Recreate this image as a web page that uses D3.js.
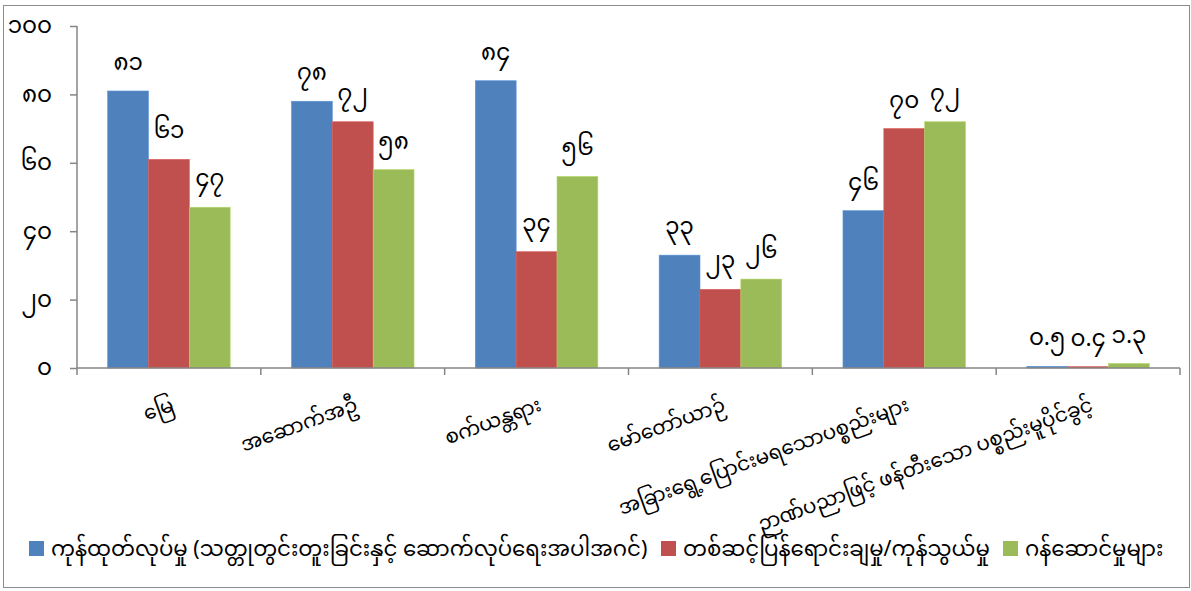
<!DOCTYPE html>
<html><head><meta charset="utf-8">
<script src="https://cdn.jsdelivr.net/npm/d3@7"></script>
<style>
html,body{margin:0;padding:0;background:#fff;}
svg{display:block;}
text{font-family:"Noto Sans Myanmar","Padauk","Myanmar Text","Noto Sans","DejaVu Sans",sans-serif;fill:#000;}
</style></head>
<body>
<svg id="c" width="1191" height="591"></svg>
<script>
const categories = ["မြေ","အဆောက်အဦ","စက်ယန္တရား","မော်တော်ယာဉ်","အခြားရွေ့ပြောင်းမရသောပစ္စည်းများ","ဉာဏ်ပညာဖြင့် ဖန်တီးသော ပစ္စည်းမူပိုင်ခွင့်"];
const seriesNames = ["ကုန်ထုတ်လုပ်မှု (သတ္တုတွင်းတူးခြင်းနှင့် ဆောက်လုပ်ရေးအပါအဂင်)","တစ်ဆင့်ပြန်ရောင်းချမှု/ကုန်သွယ်မှု","ဂန်ဆောင်မှုများ"];
const manufacturing = [81, 78, 84, 33, 46, 0.5];
const retailTrade = [61, 72, 34, 23, 70, 0.4];
const services = [47, 58, 56, 26, 72, 1.3];
const yTicks = [0, 20, 40, 60, 80, 100];
const colors = ["#4F81BD","#C0504D","#9BBB59"];

const series = [manufacturing, retailTrade, services];
const myDigits = "၀၁၂၃၄၅၆၇၈၉";
const toMy = v => String(v).replace(/[0-9]/g, d => myDigits[+d]);

const svg = d3.select("#c");
svg.append("rect").attr("x",3.5).attr("y",5.5).attr("width",1186).attr("height",582)
  .attr("fill","none").attr("stroke","#8c8c8c").attr("stroke-width",1);

const pLeft = 77, pRight = 1180, pTop = 26, pBottom = 368;
const x0 = d3.scaleBand().domain(categories).range([pLeft, pRight]).paddingInner(0).paddingOuter(0);
const bw = x0.bandwidth();
const x1 = d3.scaleBand().domain([0,1,2]).range([0, bw]).paddingOuter(0.75).paddingInner(0);
const y = d3.scaleLinear().domain([0,100]).range([pBottom, pTop]);

const g = svg.append("g");
categories.forEach((c, ci) => {
  series.forEach((s, si) => {
    const v = s[ci];
    g.append("rect")
      .attr("x", x0(c) + x1(si))
      .attr("y", y(v))
      .attr("width", x1.bandwidth())
      .attr("height", Math.max(0, y(0) - y(v)))
      .attr("fill", colors[si])
      .attr("stroke", d3.color(colors[si]).brighter(0.4))
      .attr("stroke-width", 0.6);
    g.append("text")
      .attr("x", x0(c) + x1(si) + x1.bandwidth()/2)
      .attr("y", y(v) - 21)
      .attr("text-anchor","middle")
      .attr("font-size", 23)
      .text(toMy(v));
  });
});

const yAxis = d3.axisLeft(y).tickValues(yTicks).tickSize(7).tickFormat(toMy).tickPadding(18);
const ya = svg.append("g").attr("transform",`translate(${pLeft},0)`).call(yAxis);
ya.attr("font-family",null).attr("font-size",null);
ya.selectAll("path,line").attr("stroke","#868686").attr("stroke-width",1.5);
ya.select(".domain").attr("d", `M0,${pBottom}V${pTop}`);
ya.selectAll("text").attr("font-size",23).attr("dy","0.3em");

const xa = svg.append("g").attr("transform",`translate(0,${pBottom})`);
xa.append("line").attr("x1",pLeft).attr("x2",pRight).attr("stroke","#868686").attr("stroke-width",1.5);
const tickX = categories.map(c => x0(c)).concat([pRight]);
xa.selectAll("line.tk").data(tickX).enter().append("line").attr("class","tk")
  .attr("x1",d=>d).attr("x2",d=>d).attr("y1",0).attr("y2",7)
  .attr("stroke","#868686").attr("stroke-width",1.5);
xa.selectAll("text.cat").data(categories).enter().append("text").attr("class","cat")
  .attr("text-anchor","end")
  .attr("font-size",20)
  .attr("transform", d => `translate(${x0(d)+bw/2+6},${42}) rotate(-20)`)
  .text(d=>d);

const leg = svg.append("g");
const legX = [29, 661, 1003];
seriesNames.forEach((n,i) => {
  leg.append("rect").attr("x",legX[i]).attr("y",541).attr("width",15).attr("height",15).attr("fill",colors[i]);
  leg.append("text").attr("x",legX[i]+22).attr("y",556).attr("font-size",21.3).text(n);
});
</script>
</body></html>
